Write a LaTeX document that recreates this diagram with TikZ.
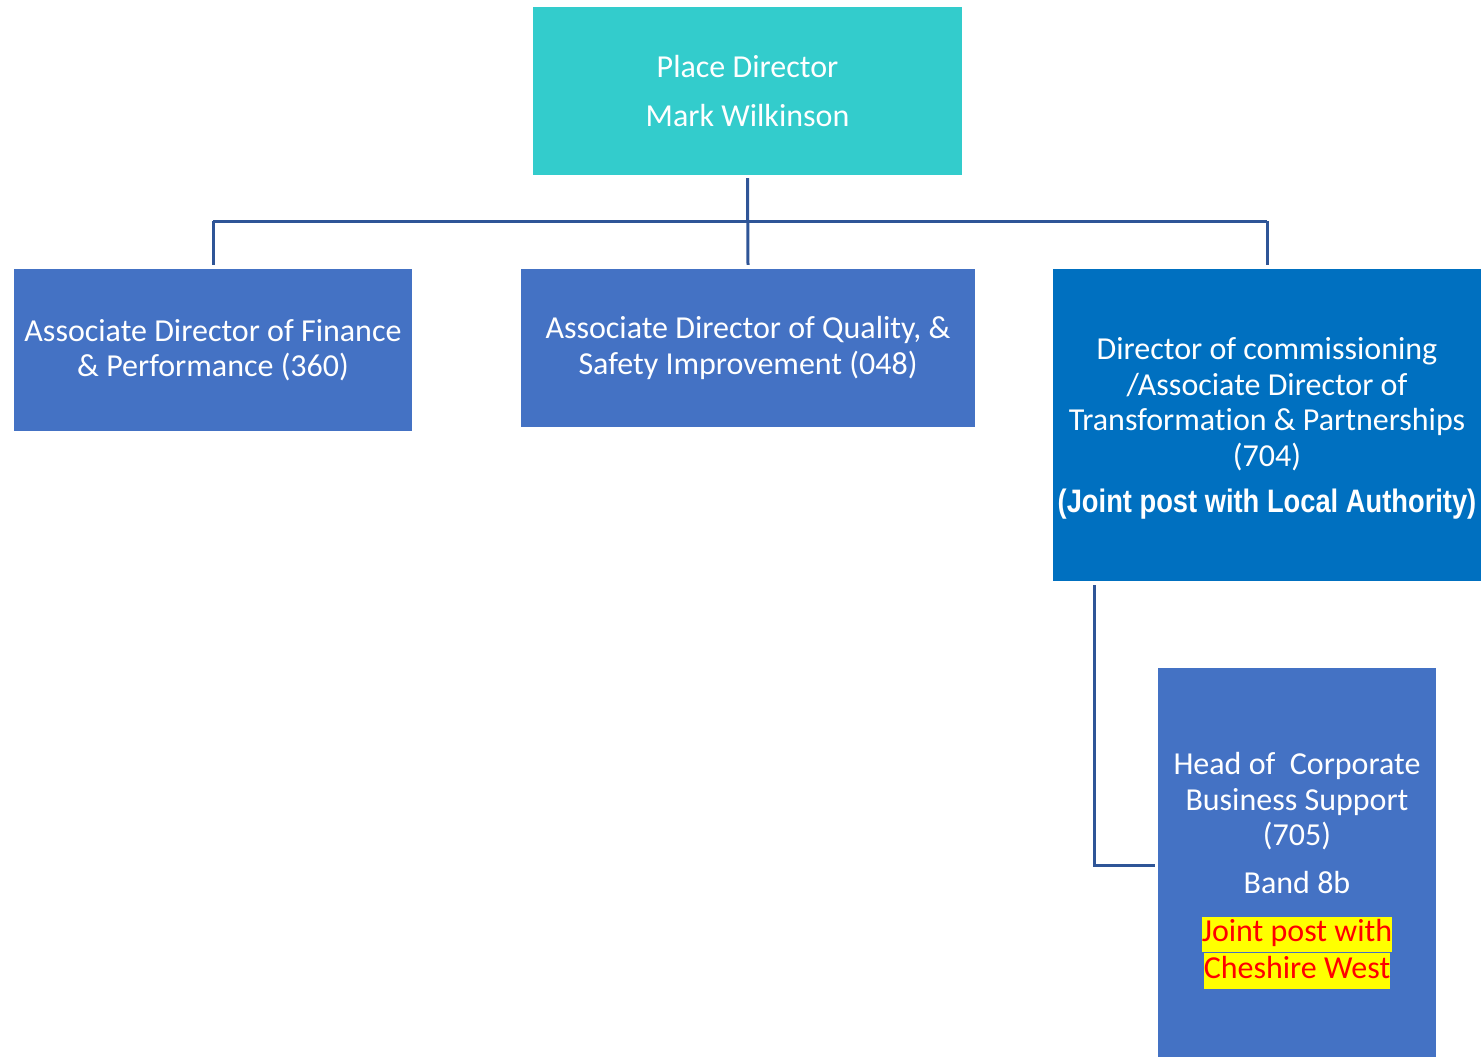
\documentclass[tikz,border=0pt]{standalone}
\usepackage{fontspec}
\setmainfont[Ligatures=NoCommon]{Carlito}
\newfontfamily\narrowf[FakeStretch=0.84]{Liberation Sans}
\usetikzlibrary{calc}
\definecolor{tealbox}{RGB}{51,204,204}
\definecolor{midblue}{RGB}{68,114,196}
\definecolor{strongblue}{RGB}{0,112,192}
\definecolor{connblue}{RGB}{47,85,151}
\definecolor{hlyellow}{RGB}{255,255,0}
\definecolor{hlred}{RGB}{255,0,0}
\newcommand{\myfs}{\fontsize{32}{35.5}\selectfont}
\newcommand{\hlline}[1]{{\setlength{\fboxsep}{0pt}\colorbox{hlyellow}{\strut\textcolor{hlred}{#1}}}}
\begin{document}
\begin{tikzpicture}[x=1pt,y=-1pt,
  orgbox/.style={draw=none, inner sep=0pt, align=center, text=white, font=\myfs},
  conn/.style={draw=connblue, line width=3pt}]
\useasboundingbox (0,0) rectangle (1481,1057);
\node[orgbox, fill=tealbox, minimum width=429pt, minimum height=168pt] (place) at (747.5,91)
  {Place Director\\[13pt]Mark Wilkinson};
\node[orgbox, fill=midblue, minimum width=398pt, minimum height=162pt] (fin) at (213,350)
  {Associate Director of Finance\\\& Performance (360)};
\node[orgbox, fill=midblue, minimum width=454pt, minimum height=158pt] (qual) at (748,348)
  {Associate Director of Quality, \&\\Safety Improvement (048)};
\node[orgbox, fill=strongblue, minimum width=428pt, minimum height=312pt] (dir) at (1267,425) {};
\node[orgbox] (dirtxt) at ($(dir.center)+(0,3.5)$)
  {Director of commissioning\\/Associate Director of\\Transformation \& Partnerships\\(704)\\[11pt]{\narrowf\bfseries\fontsize{32.5}{36}\selectfont (Joint post with Local Authority)}};
\node[orgbox, fill=midblue, minimum width=278pt, minimum height=389pt] (head) at (1297,862.5) {};
\node[orgbox] (headtxt) at ($(head.center)+(0,8)$)
  {Head of\ \ Corporate\\Business Support\\(705)\\[12pt]Band 8b\\[13pt]\hlline{Joint post with}\\[1pt]\hlline{Cheshire West}};
\coordinate (bus) at (0,221);
\coordinate (dtap) at ($(dir.south west)+(42,4)$);
\coordinate (hjoin) at ($(head.west)+(-3,2.5)$);
\draw[conn] ($(place.south)+(0,3)$) -- ($(qual.north)+(0,-4)$);
\draw[conn] (fin.north |- bus) -- (dir.north |- bus);
\draw[conn] (fin.north |- bus) -- ($(fin.north)+(0,-4)$);
\draw[conn] (dir.north |- bus) -- ($(dir.north)+(0,-4)$);
\draw[conn] (dtap) -- (dtap |- hjoin) -- (hjoin);
\end{tikzpicture}
\end{document}
